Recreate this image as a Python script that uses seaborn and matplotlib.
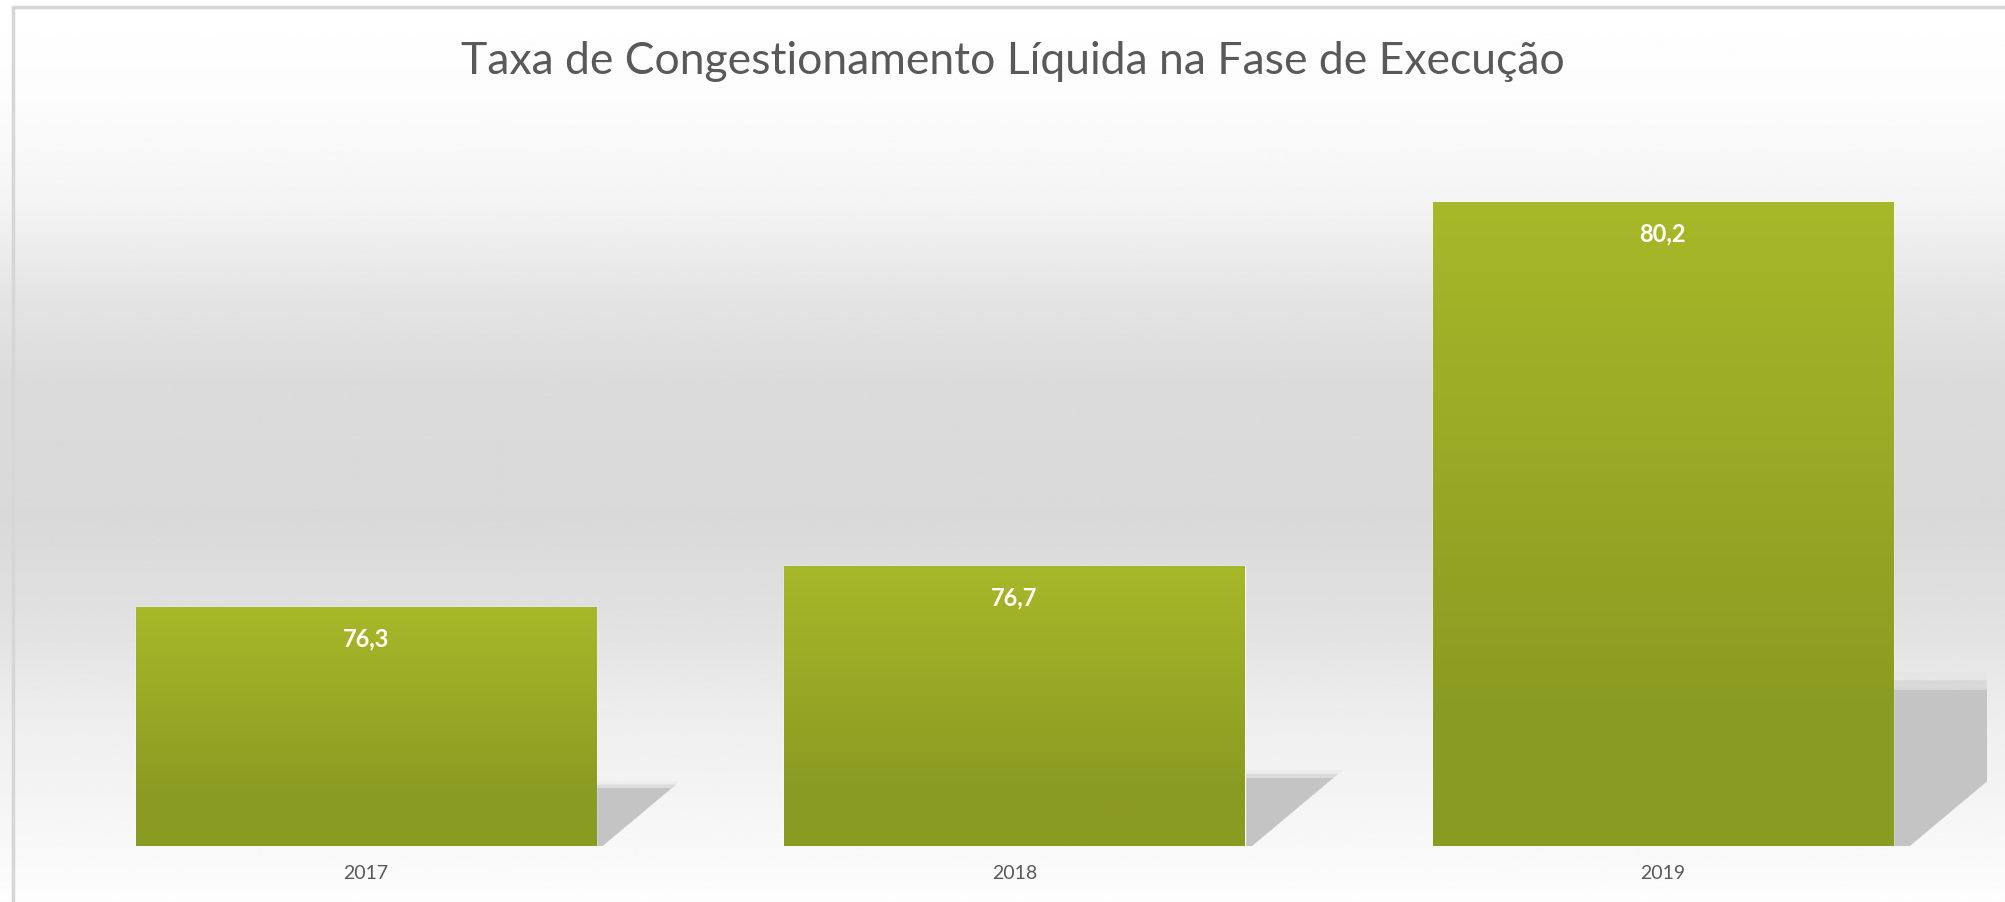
import numpy as np
import matplotlib
matplotlib.use("Agg")
import matplotlib.pyplot as plt
from matplotlib.patches import Polygon
from matplotlib.lines import Line2D
import seaborn as sns

years = ["2017", "2018", "2019"]
rates = [76.3, 76.7, 80.2]
title = "Taxa de Congestionamento Líquida na Fase de Execução"

sns.set_style("white")
plt.rcParams["font.family"] = ["Lato", "DejaVu Sans"]

fig = plt.figure(figsize=(20.05, 9.02), dpi=100)

# background: white -> grey band -> white
bg = fig.add_axes([0, 0, 1, 1], zorder=0)
ys = np.array([0, 100, 200, 300, 380, 520, 620, 720, 846, 902]) / 902
lv = np.array([255, 252, 244, 228, 219, 217, 225, 238, 248, 253]) / 255
col = np.interp(np.linspace(0, 1, 400), ys, lv)
bg.imshow(np.repeat(col[:, None], 2, axis=1), cmap="gray", vmin=0, vmax=1,
          aspect="auto", extent=(0, 1, 0, 1))
bg.axis("off")
fig.add_artist(Line2D([13 / 2005, 13 / 2005], [0, 1 - 7 / 902], color="#d6d6d6", lw=2.5))
fig.add_artist(Line2D([13 / 2005, 1], [1 - 7 / 902, 1 - 7 / 902], color="#d6d6d6", lw=2.5))

ax = fig.add_axes([42 / 2005, 56 / 902, 1945 / 2005, 727 / 902], zorder=1)
ax.patch.set_alpha(0)
sns.barplot(x=years, y=rates, color="#9aab27", width=0.71, ax=ax, zorder=3)
ax.set_xlim(-0.5, 2.5)
ax.set_ylim(74, 81)

base = 74
top_c = np.array([167, 184, 41]) / 255
bot_c = np.array([138, 155, 34]) / 255
for p, v in zip(ax.patches, rates):
    x0 = p.get_x()
    x1 = x0 + p.get_width()
    h = v - base
    # soft cast shadow
    sh = 0.25 * h
    dx = 0.052 * h
    for k, a, c in [(1.08, 0.35, "#e2e2e2"), (1.03, 0.6, "#d0d0d0"), (0.97, 1.0, "#c4c4c4")]:
        shadow = Polygon([(x1, base), (x1, base + sh * k), (x1 + dx * k, base + sh * k),
                          (x1 + dx * 0.08, base)], closed=True,
                         facecolor=c, alpha=a, edgecolor="none", zorder=2)
        ax.add_patch(shadow)
    # vertical gradient inside the bar
    t = np.linspace(0, 1, 200)
    t = np.clip(t / 0.8, 0, 1)
    grad = top_c[None, :] * (1 - t[:, None]) + bot_c[None, :] * t[:, None]
    im = ax.imshow(grad[:, None, :], extent=(x0, x1, base, v), aspect="auto",
                   zorder=4, origin="upper")
    im.set_clip_path(p)
    ax.annotate(f"{v:.1f}".replace(".", ","), xy=(x0 + p.get_width() / 2, v),
                xytext=(0, -23), textcoords="offset points", ha="center", va="center",
                color="white", fontsize=17, fontweight="bold", zorder=5)

ax.set_xlim(-0.5, 2.5)
ax.set_ylim(74, 81)
ax.set_yticks([])
ax.tick_params(axis="x", length=0, pad=14, labelsize=14, labelcolor="#595959")
for s in ax.spines.values():
    s.set_visible(False)

fig.text(1013 / 2005, 1 - 62 / 902, title, ha="center", va="center",
         fontsize=32, color="#595959", fontweight="normal", zorder=5)

fig.savefig("out.png", dpi=100)
